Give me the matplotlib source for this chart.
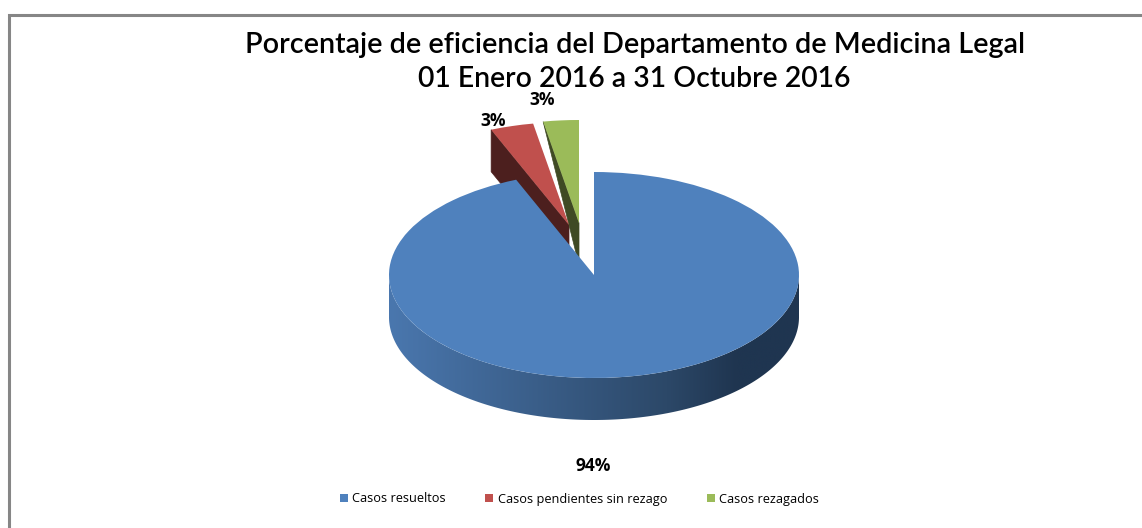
import numpy as np
import matplotlib
matplotlib.use('Agg')
import matplotlib.pyplot as plt
from matplotlib.colors import LinearSegmentedColormap
from matplotlib.patches import Polygon

categories = ['Casos resueltos', 'Casos pendientes sin rezago', 'Casos rezagados']
values = [93.8, 3.4, 2.8]
value_labels = ['94%', '3%', '3%']
colors = ['#4F81BD', '#C0504D', '#9BBB59']
wall_colors = [None, '#4C1F1E', '#3F4A24']
# how far the slices are pulled out, in pixels
pull = [(0, 0), (-25, 50), (-15, 52)]
# how much of the depth the far end of a cut face shows
wall_far = [1, 1, 0]

W, H = 1142, 528
cx, cy, rx, ry = 594, 275, 205, 103
depth = 42 / ry


def fx(px):
    return px / W


def fy(py):
    return 1 - py / H


fig = plt.figure(figsize=(W / 100, H / 100), dpi=100, facecolor='white')

# outer frame, cut off by the image on the right and at the bottom
frame = fig.add_axes([0, 0, 1, 1])
frame.set_xlim(0, W)
frame.set_ylim(H, 0)
frame.axis('off')
frame.plot([8.5, 8.5, W + 5], [H + 5, 14.5, 14.5], color='#868686', lw=2.2,
           solid_joinstyle='miter')

# the unit circle of the pie is squashed to the ellipse of the picture
ax = fig.add_axes([fx(cx - 2 * rx), fy(cy + 2 * ry), 4 * rx / W, 4 * ry / H])
ax.patch.set_alpha(0)
wedges, _ = ax.pie(values, colors=colors, startangle=90, counterclock=False,
                   radius=1, wedgeprops={'zorder': 5})

# cut faces of the pulled out slices
for w, p, wall, far in zip(wedges[1:], pull[1:], wall_colors[1:], wall_far[1:]):
    c0, c1 = p[0] / rx, p[1] / ry
    w.set_center((c0, c1))
    w.set_zorder(3)
    a = np.radians(w.theta2)
    ox, oy = c0 + np.cos(a), c1 + np.sin(a)
    ax.add_patch(Polygon([(ox, oy), (c0, c1), (c0, c1 - depth),
                          (ox, oy - depth * far)],
                         closed=True, fc=wall, ec=wall, lw=0.5, zorder=2))

# front wall of the big slice, shaded from left to right
shade = LinearSegmentedColormap.from_list(
    'wall', [(0, '#4A77AE'), (0.68, '#2C4868'), (0.85, '#1F3550'), (1, '#1F3550')])
angles = np.radians(np.linspace(180, 360, 241))
top = np.column_stack([np.cos(angles), np.sin(angles)])
bottom = top[::-1] - [0, depth]
front = Polygon(np.vstack([top, bottom]), closed=True, transform=ax.transData,
                fc='none', ec='none')
ax.add_patch(front)
img = ax.imshow(np.linspace(0, 1, 512)[None, :], cmap=shade, aspect='auto',
                extent=(-1, 1, -1 - depth, 0), zorder=4, interpolation='bilinear')
img.set_clip_path(front)

ax.set_aspect('auto')
ax.set_xlim(-2, 2)
ax.set_ylim(-2, 2)

title_font = ['Lato', 'DejaVu Sans']
fig.text(fx(635), fy(45), 'Porcentaje de eficiencia del Departamento de Medicina Legal',
         ha='center', va='center', fontsize=20.7, fontweight='semibold',
         family=title_font, color='black')
fig.text(fx(634), fy(79), '01 Enero 2016 a 31 Octubre 2016',
         ha='center', va='center', fontsize=20.4, fontweight='semibold',
         family=title_font, color='black')

label_pos = [(593, 466), (493, 121), (542, 100)]
for txt, (px, py) in zip(value_labels, label_pos):
    fig.text(fx(px), fy(py), txt, ha='center', va='center', fontsize=12.5,
             fontweight='bold', family=['Open Sans', 'DejaVu Sans'], color='black')

fig.legend(wedges, categories, loc='center', bbox_to_anchor=(fx(579.5), fy(499)), ncol=3,
           frameon=False, handlelength=0.62, handleheight=0.62,
           handletextpad=0.35, columnspacing=3.1,
           prop={'family': ['Open Sans', 'DejaVu Sans'], 'size': 9.2})

fig.savefig('out.png', dpi=100, facecolor='white')
